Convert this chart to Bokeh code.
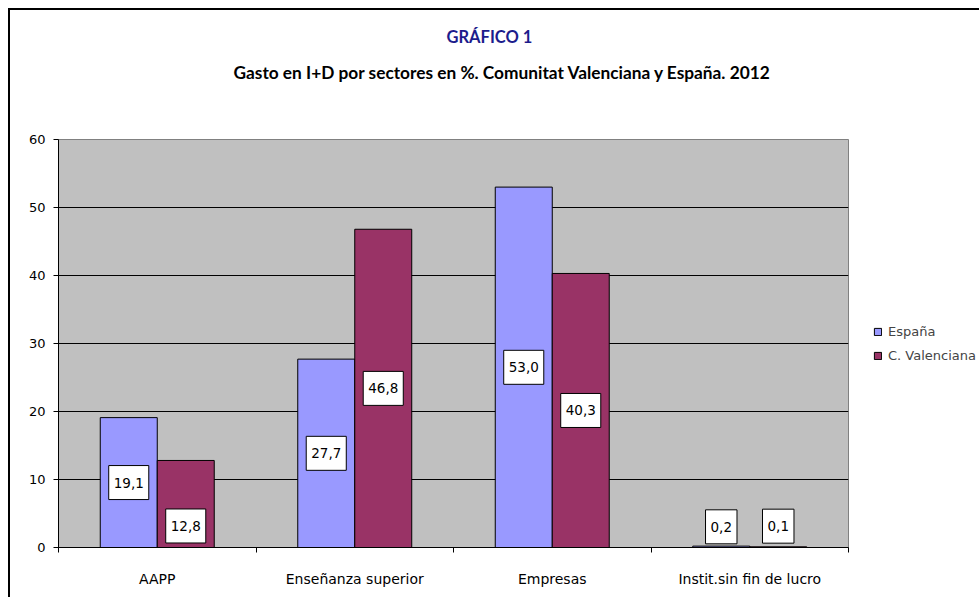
from bokeh.plotting import figure
from bokeh.models import ColumnDataSource, Range1d, FixedTicker, Legend, LegendItem, Title
from bokeh.core.properties import value
from bokeh.embed import file_html
from bokeh.resources import INLINE

# ---- data ----
categories = ["AAPP", "Enseñanza superior", "Empresas", "Instit.sin fin de lucro"]
espana = [19.1, 27.7, 53.0, 0.2]
valenciana = [12.8, 46.8, 40.3, 0.1]
y_ticks = [0, 10, 20, 30, 40, 50, 60]
series_names = ["España", "C. Valenciana"]
title_text = "GRÁFICO 1"
subtitle_text = "Gasto en I+D por sectores en %. Comunitat Valenciana y España. 2012"

# ---- styling ----
BAR_W = 0.2886
label_shift_es = [0, 0, 0, -20]   # px label nudges, as placed in the original
label_shift_cv = [22, 0, 0, -21]
AX_FONT = "DejaVu Sans"

n = len(categories)
centers = [i + 0.5 for i in range(n)]
src = ColumnDataSource(dict(
    x_es=[c - BAR_W / 2 for c in centers],
    x_cv=[c + BAR_W / 2 for c in centers],
    es=espana,
    cv=valenciana,
    es_mid=[v / 2 for v in espana],
    cv_mid=[v / 2 for v in valenciana],
    es_txt=[f"{v:.1f}".replace(".", ",") for v in espana],
    cv_txt=[f"{v:.1f}".replace(".", ",") for v in valenciana],
    es_off=label_shift_es,
    cv_off=label_shift_cv,
))

p = figure(frame_width=790, frame_height=408,
           min_border_left=48, min_border_right=131, min_border_top=129, min_border_bottom=50,
           x_range=Range1d(0, n), y_range=Range1d(0, 60),
           output_backend="svg", toolbar_location=None, tools="")
p.styles = {"margin-left": "8px", "margin-top": "8px",
            "border-left": "2px solid black", "border-top": "2px solid black"}
p.background_fill_color = "#C0C0C0"
p.border_fill_color = "white"
p.outline_line_color = "#808080"

p.xgrid.visible = False
p.ygrid.ticker = FixedTicker(ticks=y_ticks)
p.ygrid.grid_line_color = "black"

ya = p.yaxis[0]
ya.ticker = FixedTicker(ticks=y_ticks)
ya.major_tick_out = 5
ya.major_tick_in = 0
ya.minor_tick_line_color = None
ya.axis_line_color = "black"
ya.major_tick_line_color = "black"
ya.major_label_standoff = 8
ya.major_label_text_font = AX_FONT
ya.major_label_text_font_size = "13px"
ya.major_label_text_color = "black"

xa = p.xaxis[0]
xa.ticker = FixedTicker(ticks=centers, minor_ticks=list(range(n + 1)))
xa.major_label_overrides = {c: lab for c, lab in zip(centers, categories)}
xa.major_tick_line_color = None
xa.major_tick_out = 0
xa.major_tick_in = 0
xa.minor_tick_out = 5
xa.minor_tick_in = 0
xa.minor_tick_line_color = "black"
xa.axis_line_color = "black"
xa.major_label_standoff = 18
xa.major_label_text_font = AX_FONT
xa.major_label_text_font_size = "14px"
xa.major_label_text_color = "black"

r_es = p.vbar(x="x_es", top="es", width=BAR_W, source=src,
              fill_color="#9999FF", line_color="black", line_width=1)
r_cv = p.vbar(x="x_cv", top="cv", width=BAR_W, source=src,
              fill_color="#993366", line_color="black", line_width=1)

lab_kw = dict(source=src, text_align="center", text_baseline="middle",
              text_font_size="13.5px", text_color="black",
              background_fill_color="white", border_line_color="black", border_line_width=1,
              padding=dict(left=5, right=5, top=12, bottom=12))
p.text(x="x_es", y="es_mid", text="es_txt", y_offset="es_off", text_font=value(AX_FONT), **lab_kw)
p.text(x="x_cv", y="cv_mid", text="cv_txt", y_offset="cv_off", text_font=value(AX_FONT), **lab_kw)

legend = Legend(items=[LegendItem(label=series_names[0], renderers=[r_es]),
                       LegendItem(label=series_names[1], renderers=[r_cv])],
                location=(25, 184), border_line_color=None, background_fill_alpha=0,
                glyph_width=9, glyph_height=9, label_standoff=6, spacing=8, padding=0, margin=0,
                label_height=16, label_text_font=AX_FONT, label_text_font_size="13px")
p.add_layout(legend, "right")

spacer = Title(text=" ", text_font_size="10px", standoff=40)
sub = Title(text=subtitle_text, align="left", offset=175, vertical_align="top", standoff=3,
            text_font="Lato", text_font_style="bold", text_font_size="17.3px", text_color="black")
main = Title(text=title_text, align="left", offset=388, vertical_align="bottom", standoff=27,
             text_font="Lato", text_font_style="bold", text_font_size="16.5px", text_color="#1C1C8C")
p.add_layout(spacer, "above")
p.add_layout(sub, "above")
p.add_layout(main, "above")

open("out.html", "w").write(file_html(p, INLINE))
